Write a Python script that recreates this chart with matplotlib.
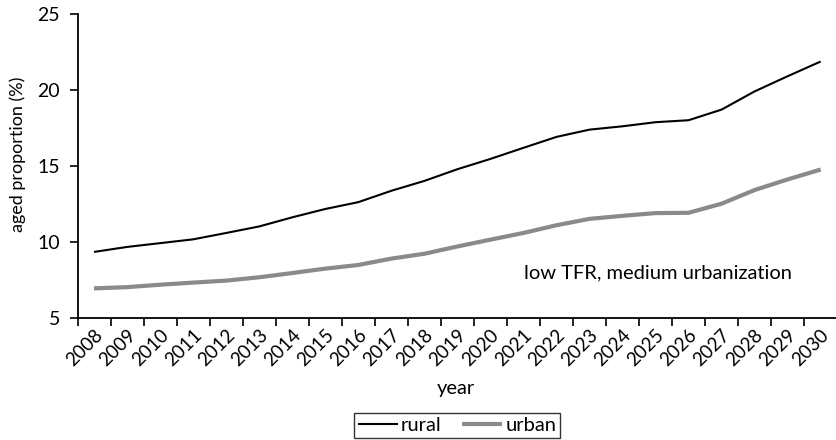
import matplotlib
matplotlib.use("Agg")
import matplotlib.pyplot as plt
import numpy as np

years = [str(y) for y in range(2008, 2031)]
rural = [9.32, 9.65, 9.9, 10.15, 10.57, 11.0, 11.6, 12.15, 12.6, 13.35, 14.0, 14.77,
         15.45, 16.18, 16.9, 17.38, 17.6, 17.87, 18.0, 18.7, 19.9, 20.9, 21.87]
urban = [6.92, 7.0, 7.16, 7.3, 7.43, 7.65, 7.93, 8.22, 8.46, 8.88, 9.2, 9.68,
         10.13, 10.57, 11.08, 11.5, 11.7, 11.88, 11.9, 12.5, 13.4, 14.1, 14.75]
yticks = [5, 10, 15, 20, 25]

FONT = ['Lato', 'DejaVu Sans']
plt.rcParams['font.family'] = FONT
FS = 14.5
TFS = 13.5

fig = plt.figure(figsize=(8.36, 4.4), dpi=100)
W, H = 836, 440
left, right, top, bottom = 77.5, 837.2, 14, 317.5
ax = fig.add_axes([left / W, (H - bottom) / H, (right - left) / W, (bottom - top) / H])

x = np.arange(len(years))
ax.plot(x, rural, color='black', lw=1.5, label='rural', solid_capstyle='butt')
ax.plot(x, urban, color='#8a8a8a', lw=3.0, label='urban', solid_capstyle='butt')

ax.set_xlim(-0.5, len(years) - 0.5)
ax.set_ylim(5, 25)
ax.set_yticks(yticks)
ax.set_yticklabels([str(v) for v in yticks], fontsize=TFS + 0.5)

# labels end slightly right of each category centre (Excel style)
ax.set_xticks(x + 0.29)
ax.set_xticklabels(years, fontsize=TFS, rotation=45, ha='right', va='baseline',
                   rotation_mode='anchor')
ax.set_xticks(np.arange(len(years) + 1) - 0.5, minor=True)
ax.tick_params(axis='x', which='major', length=0, pad=13.3)
ax.tick_params(axis='x', which='minor', length=6, width=1.2, direction='out')
ax.tick_params(axis='y', length=5.5, width=1.2, direction='out', pad=7)

for s in ['top', 'right']:
    ax.spines[s].set_visible(False)
for s in ['left', 'bottom']:
    ax.spines[s].set_linewidth(1.3)

ax.set_xlabel('year', fontsize=FS)
ax.xaxis.label.set_va('center')
ax.xaxis.set_label_coords((456 - left) / (right - left), (bottom - 388) / (bottom - top))
ax.set_ylabel('aged proportion (%)', fontsize=13)
ax.yaxis.label.set_va('center')
ax.yaxis.set_label_coords((18 - left) / (right - left), (bottom - 154) / (bottom - top))

ax.text(17.07, 7.93, 'low TFR, medium urbanization', fontsize=FS, ha='center', va='center')

leg = fig.legend(loc='center', bbox_to_anchor=(457 / W, 1 - 425.5 / H), ncol=2,
                 fontsize=FS, frameon=True, fancybox=False, edgecolor='black',
                 handlelength=2.0, handletextpad=0.15, columnspacing=1.0,
                 borderpad=0.2, borderaxespad=0)
leg.get_frame().set_linewidth(1.0)

fig.savefig('out.png', dpi=100)
